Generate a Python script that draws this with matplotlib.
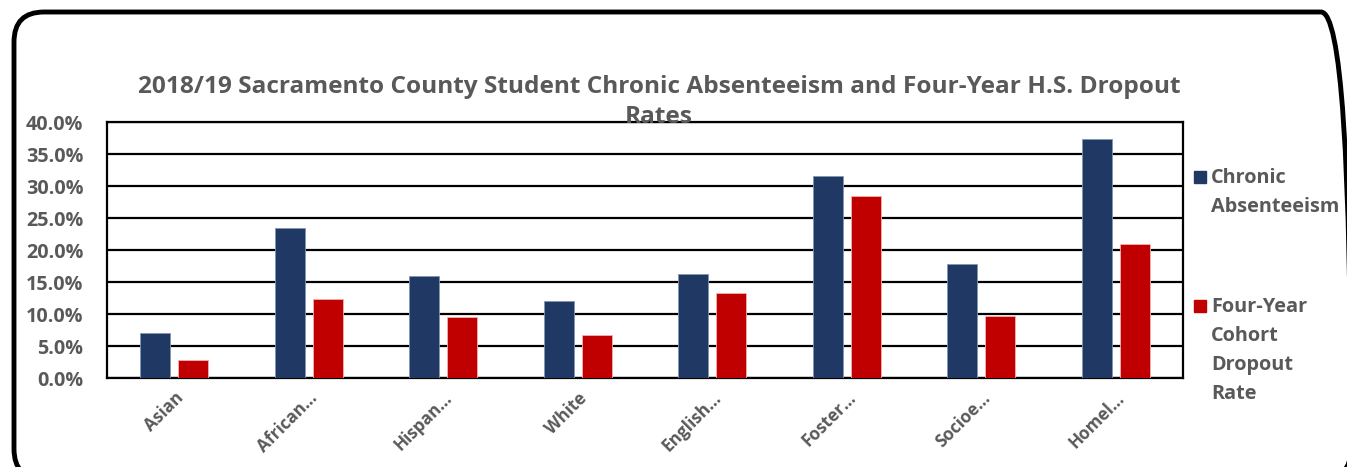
import matplotlib.pyplot as plt
import numpy as np
from matplotlib.patches import FancyBboxPatch, Rectangle
from matplotlib.transforms import IdentityTransform

groups = ["Asian", "African…", "Hispan…", "White", "English…", "Foster…", "Socioe…", "Homel…"]
chronic = [7.0, 23.5, 15.9, 12.0, 16.3, 31.5, 17.8, 37.4]
dropout = [2.8, 12.4, 9.6, 6.7, 13.3, 28.5, 9.7, 21.0]
yticks = [0, 5, 10, 15, 20, 25, 30, 35, 40]

navy = "#203864"
red = "#C00000"
grey = "#595959"
plt.rcParams['font.family'] = ['Open Sans', 'DejaVu Sans']

W, H = 1347, 467
fig = plt.figure(figsize=(W / 100, H / 100), dpi=100)
ax = fig.add_axes([107 / W, 1 - 378 / H, (1183 - 107) / W, (378 - 122) / H])

x = np.arange(len(groups))
bw = 0.223
off = 0.141
ax.bar(x - off, chronic, bw, color=navy, zorder=3, edgecolor="#8496B0", linewidth=0.6)
ax.bar(x + off, dropout, bw, color=red, zorder=3, edgecolor="#F4B0B0", linewidth=0.6)

ax.set_xlim(-0.5, len(groups) - 0.5)
ax.set_ylim(0, 40)
ax.set_yticks(yticks)
ax.set_yticklabels(["{:.1f}%".format(v) for v in yticks], fontsize=14.2, fontweight="bold", color=grey)
ax.yaxis.grid(True, color="black", linewidth=1.6, zorder=1)
ax.tick_params(axis="y", length=0, pad=17)
ax.tick_params(axis="x", length=0, pad=8)
ax.set_xticks(x)
ax.set_xticklabels(groups, rotation=45, ha="right", rotation_mode="anchor",
                   fontsize=12.3, fontweight="bold", color=grey)
for s in ax.spines.values():
    s.set_linewidth(1.6)
    s.set_color("black")

fig.text(659 / W, 1 - 102 / H, "2018/19 Sacramento County Student Chronic Absenteeism and Four-Year H.S. Dropout\nRates",
         ha="center", va="center", fontsize=17.6, fontweight="bold", color=grey, linespacing=1.35)

# legend drawn by hand
leg = [("Chronic\nAbsenteeism", navy, 177), ("Four-Year\nCohort\nDropout\nRate", red, 306)]
for txt, c, ytop in leg:
    fig.patches.append(Rectangle((1194 / W, 1 - (ytop + 6) / H), 12 / W, 12 / H,
                                 transform=fig.transFigure, color=c))
    fig.text(1211 / W, 1 - (ytop - 9) / H, txt, ha="left", va="top", fontsize=14.3,
             fontweight="bold", color=grey, linespacing=1.6)

# rounded frame, in pixels
fig.patches.append(FancyBboxPatch((14, -12), 1337, 467, boxstyle="round,pad=0,rounding_size=30",
                                  transform=IdentityTransform(), fill=False,
                                  edgecolor="black", linewidth=3.5))

fig.savefig("out.png", dpi=100)
